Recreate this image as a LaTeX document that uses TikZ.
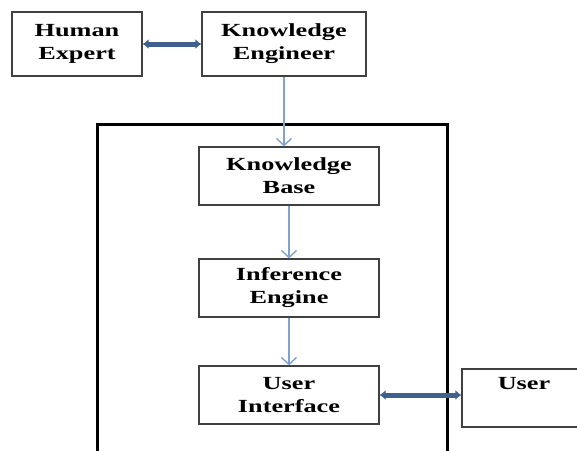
\documentclass[tikz,border=0pt]{standalone}
\usepackage{fontspec}
\setmainfont{Liberation Serif}[FakeStretch=1.42]
\usepackage{tikz}
\usetikzlibrary{arrows.meta,positioning}

\definecolor{linkblue}{HTML}{7FA2D2}
\definecolor{pipeblue}{HTML}{40618D}

\begin{document}
\begin{tikzpicture}[
  x=1pt, y=-1pt,
  box/.style={draw=black!75, line width=1.2pt, align=center, font=\fontsize{18.5}{23}\selectfont\bfseries, inner sep=2pt, minimum height=58pt, minimum width=180pt},
  arr/.style={-{Straight Barb[length=7pt,width=15pt]}, linkblue, line width=1.4pt},
  pipe/.style={{Latex[length=6pt,width=10pt]}-{Latex[length=6pt,width=10pt]}, pipeblue, line width=5pt}
]
\clip (0,0) rectangle (577,450);
\node[draw, line width=3pt, minimum width=350pt, minimum height=350pt, inner sep=0pt] (system) at (272,299) {};
\node[box, minimum width=130pt, minimum height=64pt] (expert) at (77,44) {Human\\Expert};
\node[box, minimum width=164pt, minimum height=64pt] (engineer) at (284,44) {Knowledge\\Engineer};
\node[box] (kbase) at (289,176) {Knowledge\\Base};
\node[box] (infer) at (289,288) {Inference\\Engine};
\node[box] (ui) at (289,395) {User\\Interface};
\node[box, minimum width=124pt] (user) at (524,398) {User\\\strut};
\draw[pipe] (expert.east)--(engineer.west);
\draw[arr] (engineer.south)--(engineer.south |- kbase.north);
\draw[arr] (kbase)--(infer);
\draw[arr] (infer)--(ui);
\draw[pipe] (ui.east)--(ui.east -| user.west);
\end{tikzpicture}
\end{document}
